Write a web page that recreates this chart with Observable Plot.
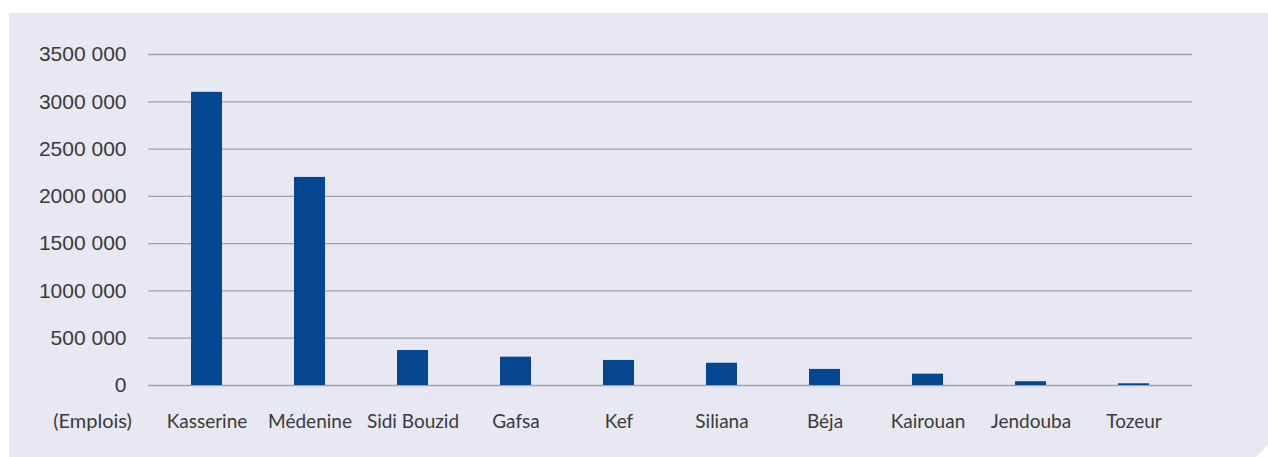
<!DOCTYPE html>
<html>
<head>
<meta charset="utf-8">
<script src="https://cdn.jsdelivr.net/npm/d3@7"></script>
<script src="https://cdn.jsdelivr.net/npm/@observablehq/plot@0.6"></script>
<style>
  html, body { margin: 0; padding: 0; background: #ffffff; width: 1268px; height: 457px; overflow: hidden; }
  #bg { position: absolute; left: 9px; top: 13px; width: 1259px; height: 444px; background: #e8e8f2;
        clip-path: polygon(0 0, 100% 0, 100% calc(100% - 12px), calc(100% - 12px) 100%, 0 100%); }
  #chart { position: absolute; left: 0; top: 0; }
  #chart svg { background: transparent; }
</style>
</head>
<body>
<div id="bg"></div>
<div id="chart"></div>
<script>
const regions = ["Kasserine", "Médenine", "Sidi Bouzid", "Gafsa", "Kef", "Siliana", "Béja", "Kairouan", "Jendouba", "Tozeur"];
const emplois = [3100000, 2200000, 370000, 300000, 265000, 235000, 170000, 120000, 40000, 18000];
const yTicks = [0, 500000, 1000000, 1500000, 2000000, 2500000, 3000000, 3500000];
const yTickLabels = ["0", "500 000", "1000 000", "1500 000", "2000 000", "2500 000", "3000 000", "3500 000"];
const unitLabel = ["(Emplois)"];

const data = regions.map((r, i) => ({region: r, value: emplois[i]}));

const chart = Plot.plot({
  width: 1268,
  height: 457,
  marginLeft: 148,
  marginRight: 76,
  marginTop: 54,
  marginBottom: 72,
  style: {background: "transparent", overflow: "visible"},
  x: {domain: regions, paddingInner: 0.7, paddingOuter: 0.35, insetLeft: 4.6, insetRight: 4.6, label: null},
  y: {domain: [0, 3500000], label: null},
  marks: [
    Plot.ruleY(yTicks, {stroke: "#a2a2aa", strokeWidth: 1.3}),
    Plot.barY(data, {x: "region", y: "value", fill: "#04468f"}),
    Plot.axisY({ticks: yTicks, tickFormat: d => yTickLabels[yTicks.indexOf(d)], tickSize: 0, tickPadding: 22,
      fontSize: 21, fontFamily: "Liberation Sans, Arial, sans-serif", fill: "#3a3a3a", label: null}),
    Plot.axisX({tickSize: 0, tickPadding: 29, fontSize: 19, fontFamily: "Lato, sans-serif", fill: "#3a3a3a", label: null}),
    Plot.text(unitLabel, {frameAnchor: "bottom-left", dx: -56, dy: 42, fontSize: 20, fontFamily: "Lato, sans-serif",
      fill: "#3a3a3a", textAnchor: "middle"})
  ]
});
document.getElementById("chart").appendChild(chart);
</script>
</body>
</html>
